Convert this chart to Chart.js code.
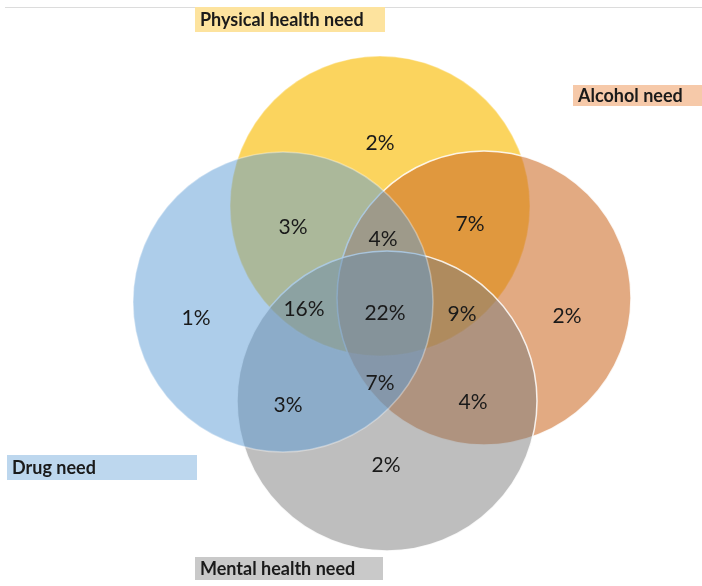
<!DOCTYPE html>
<html>
<head>
<meta charset="utf-8">
<script src="https://cdn.jsdelivr.net/npm/chart.js@4/dist/chart.umd.min.js"></script>
<style>
  html, body { margin: 0; padding: 0; background: #ffffff; }
  #wrap { width: 702px; height: 586px; position: relative; }
</style>
</head>
<body>
<div id="wrap"><canvas id="c" width="702" height="586"></canvas></div>
<script>
// ---- Data ----
const setNames   = ['Physical health need', 'Alcohol need', 'Mental health need', 'Drug need'];
const setCenterX = [380, 484, 387, 283];
const setCenterY = [206, 298, 401, 302];
const setRadius  = [150, 147, 150, 150];

const regionLabels = ['2%', '3%', '4%', '7%', '1%', '16%', '22%', '9%', '2%', '7%', '3%', '4%', '2%'];
const regionX      = [380, 293, 383, 470, 196, 304, 385, 462, 567, 380, 288, 473, 386];
const regionY      = [143, 227, 239, 224, 318, 309, 313, 314, 316, 383, 405, 402, 465];

const legendNames = ['Physical health need', 'Alcohol need', 'Drug need', 'Mental health need'];
const legendX     = [195, 573, 7, 195];
const legendY     = [7, 85, 455, 557];
const legendW     = [190, 129, 190, 188];
const legendH     = [25, 21, 25, 23];

// ---- Styles ----
const fillColors = [
  'rgba(249,194,26,0.70)',
  'rgba(205,109,40,0.58)',
  'rgba(125,125,125,0.50)',
  'rgba(91,155,213,0.50)'
];
const borderColors = [
  'rgba(255,255,255,0.35)',
  'rgba(255,255,255,0.85)',
  'rgba(255,255,255,0.85)',
  'rgba(255,255,255,0.35)'
];
const drawOrder = [4, 3, 2, 1];
const legendColors = ['#FDE39E', '#F6C9A9', '#BDD7EE', '#C9C9C9'];

const datasets = setNames.map((name, i) => ({
  type: 'bubble',
  label: name,
  order: drawOrder[i],
  clip: false,
  data: [{ x: setCenterX[i], y: setCenterY[i], r: setRadius[i] }],
  backgroundColor: fillColors[i],
  borderColor: borderColors[i],
  borderWidth: 1.5,
  radius: (ctx) => {
    const s = ctx.chart.scales.x;
    const raw = ctx.raw;
    if (!raw || !s) return 0;
    return Math.abs(s.getPixelForValue(raw.r) - s.getPixelForValue(0));
  }
}));

datasets.push({
  type: 'scatter',
  label: 'regions',
  order: 0,
  clip: false,
  data: regionLabels.map((t, i) => ({ x: regionX[i], y: regionY[i] })),
  pointRadius: 0,
  pointHoverRadius: 0
});

datasets.push({
  type: 'scatter',
  label: 'legendBoxes',
  order: 0,
  clip: false,
  data: legendNames.map((t, i) => ({ x: legendX[i], y: legendY[i] })),
  pointRadius: 0,
  pointHoverRadius: 0
});

const textPlugin = {
  id: 'vennText',
  beforeDatasetsDraw(chart) {
    const ctx = chart.ctx;
    const xs = chart.scales.x, ys = chart.scales.y;
    ctx.save();
    ctx.strokeStyle = '#dcdcdc';
    ctx.lineWidth = 1;
    ctx.beginPath();
    ctx.moveTo(xs.getPixelForValue(5), ys.getPixelForValue(7.5));
    ctx.lineTo(xs.getPixelForValue(702), ys.getPixelForValue(7.5));
    ctx.stroke();
    ctx.restore();
  },
  afterDatasetsDraw(chart) {
    const ctx = chart.ctx;
    const xs = chart.scales.x, ys = chart.scales.y;
    ctx.save();
    const meta = chart.getDatasetMeta(setNames.length);
    ctx.fillStyle = '#1a1a1a';
    ctx.font = '21px Lato, "Open Sans", sans-serif';
    ctx.textAlign = 'center';
    ctx.textBaseline = 'middle';
    meta.data.forEach((pt, i) => {
      ctx.fillText(regionLabels[i], pt.x, pt.y);
    });
    const lmeta = chart.getDatasetMeta(setNames.length + 1);
    ctx.font = 'bold 18px Lato, "Open Sans", sans-serif';
    ctx.textAlign = 'left';
    lmeta.data.forEach((pt, i) => {
      const w = xs.getPixelForValue(legendX[i] + legendW[i]) - pt.x;
      const h = ys.getPixelForValue(legendY[i] + legendH[i]) - pt.y;
      ctx.fillStyle = legendColors[i];
      ctx.fillRect(pt.x, pt.y, w, h);
      ctx.fillStyle = '#1a1a1a';
      ctx.fillText(legendNames[i], pt.x + 5, pt.y + h / 2 + 1);
    });
    ctx.restore();
  }
};

new Chart(document.getElementById('c'), {
  type: 'bubble',
  data: { datasets },
  options: {
    responsive: false,
    animation: false,
    layout: { padding: 0, autoPadding: false },
    events: [],
    scales: {
      x: { type: 'linear', min: 0, max: 702, display: false },
      y: { type: 'linear', min: 0, max: 586, reverse: true, display: false }
    },
    plugins: {
      legend: { display: false },
      tooltip: { enabled: false }
    }
  },
  plugins: [textPlugin]
});
</script>
</body>
</html>
